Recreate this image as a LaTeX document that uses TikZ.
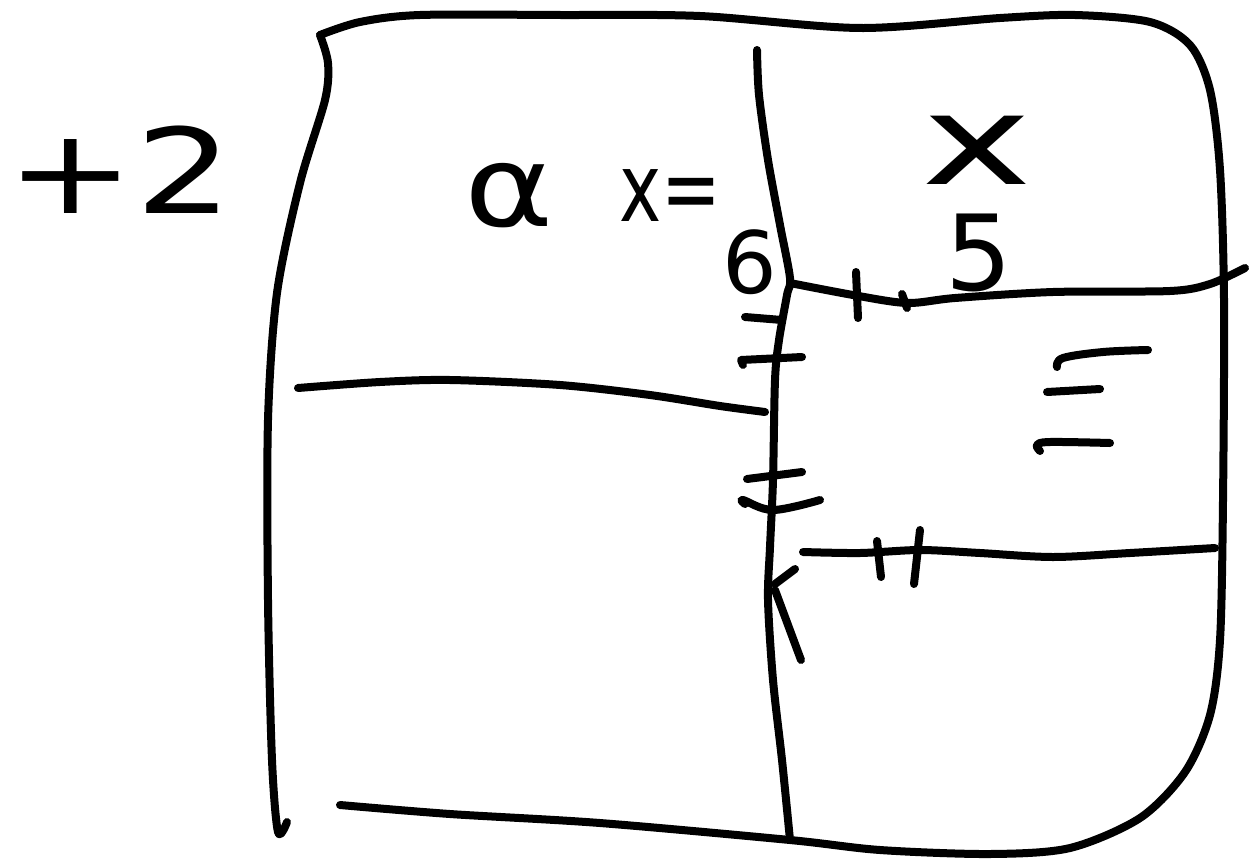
\documentclass[tikz,border=0pt]{standalone}
\usepackage{fontspec}
\setmainfont{DejaVu Sans}
\begin{document}
\begin{tikzpicture}[x=1pt,y=-1pt,
  pen/.style={line width=8pt,line cap=round,line join=round,black},
  hand/.style={inner sep=0pt,text=black}]
\useasboundingbox[fill=white] (0,0) rectangle (1249,867);
% outer frame: left side
\draw[pen] plot[smooth,tension=0.5] coordinates {(287,822) (278,832) (272,760) (268,600) (268,420) (277,293) (300,183) (325,100) (328,63) (320,35)};
% top and right side
\draw[pen] plot[smooth,tension=0.5] coordinates {(320,35) (360,22) (420,15) (560,15) (700,16) (860,28) (1000,18) (1075,15) (1150,22) (1190,45) (1210,90) (1220,170) (1224,300) (1223,500) (1220,640) (1210,715) (1185,772) (1140,818) (1070,848) (990,854) (880,850) (790,840) (600,823) (450,814) (340,805)};
% middle vertical line
\draw[pen] plot[smooth,tension=0.5] coordinates {(757,50) (759,95) (768,160) (780,225) (790,278) (787,295) (779,340) (775,380) (773,480) (770,547) (768,600) (773,680) (782,760) (790,840)};
% extra strokes at lower middle
\draw[pen] (775,584) -- (795,569);
\draw[pen] (775,590) -- (801,660);
% upper right horizontal line
\draw[pen] plot[smooth,tension=0.5] coordinates {(790,283) (853,295) (907,303) (955,298) (1053,292) (1170,291) (1210,284) (1245,268)};
\draw[pen] (902,294) -- (907,308);
% left horizontal line
\draw[pen] plot[smooth,tension=0.5] coordinates {(298,388) (380,382) (450,380) (560,385) (650,395) (720,406) (765,412)};
% lower right horizontal line
\draw[pen] plot[smooth,tension=0.5] coordinates {(803,552) (860,553) (920,550) (980,553) (1053,557) (1130,553) (1215,548)};
% tick marks
\draw[pen] (856,272) -- (858,318);
\draw[pen] (745,317) -- (782,320);
\draw[pen] (743,365) -- (741,360) -- (802,357);
\draw[pen] (747,479) -- (802,472);
\draw[pen] plot[smooth,tension=0.6] coordinates {(745,504) (743,500) (773,510) (820,500)};
\draw[pen] (877,541) -- (881,577);
\draw[pen] (920,530) -- (914,584);
% right middle marks
\draw[pen] plot[smooth,tension=0.6] coordinates {(1057,367) (1063,358) (1103,352) (1148,350)};
\draw[pen] (1047,392) -- (1100,389);
\draw[pen] plot[smooth,tension=0.6] coordinates {(1040,451) (1037,445) (1050,442) (1110,443)};
% handwritten texts
\node[hand,font=\fontsize{118}{118}\selectfont] (plustwo) at (120,170) {\scalebox{1.3}[1]{+2}};
\node[hand,font=\fontsize{113}{113}\selectfont] (alpha) at (509,196) {\scalebox{1.2}[1]{α}};
\node[hand,font=\fontsize{95}{95}\selectfont] (xeq) at (670,196) {\scalebox{0.75}[1]{x=}};
\node[hand,font=\fontsize{86}{86}\selectfont] (six) at (750,262) {6};
\node[hand,font=\fontsize{125}{125}\selectfont] (xr) at (977,150) {\scalebox{1.5}[1]{x}};
\node[hand,font=\fontsize{105}{105}\selectfont] (five) at (979,253) {5};
\end{tikzpicture}
\end{document}
